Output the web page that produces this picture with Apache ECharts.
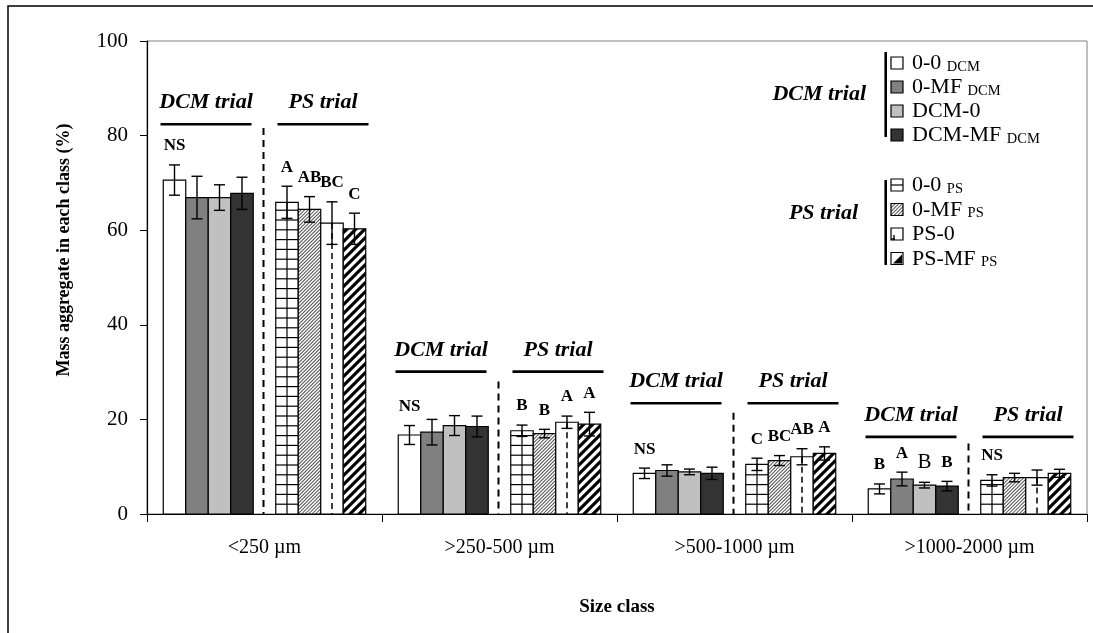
<!DOCTYPE html>
<html><head><meta charset="utf-8">
<script src="https://cdn.jsdelivr.net/npm/echarts@6/dist/echarts.min.js"></script>
<style>html,body{margin:0;padding:0;background:#fff}#c{width:1093px;height:633px}</style>
</head><body><div id="c"></div>
<script>
// ---------------- data ----------------
const categories = ['<250 µm', '>250-500 µm', '>500-1000 µm', '>1000-2000 µm'];

const mean00DCM = [70.6, 16.7, 8.6, 5.3];
const meanMFDCM = [66.9, 17.3, 9.2, 7.4];
const meanDCM0  = [66.9, 18.7, 8.9, 6.1];
const meanDCMMF = [67.8, 18.5, 8.6, 5.9];
const mean00PS  = [65.9, 17.6, 10.5, 7.1];
const meanMFPS  = [64.4, 17.0, 11.3, 7.7];
const meanPS0   = [61.5, 19.4, 12.1, 7.7];
const meanPSMF  = [60.3, 19.0, 12.8, 8.6];

const err00DCM = [3.2, 2.0, 1.1, 1.05];
const errMFDCM = [4.5, 2.7, 1.2, 1.45];
const errDCM0  = [2.7, 2.1, 0.6, 0.6];
const errDCMMF = [3.4, 2.2, 1.3, 1.0];
const err00PS  = [3.4, 1.2, 1.3, 1.2];
const errMFPS  = [2.7, 0.9, 1.05, 0.9];
const errPS0   = [4.5, 1.3, 1.7, 1.6];
const errPSMF  = [3.3, 2.5, 1.4, 0.85];

const let00DCM = ['NS', 'NS', 'NS', 'B'];
const letMFDCM = ['', '', '', 'A'];
const letDCM0  = ['', '', '', 'B'];
const letDCMMF = ['', '', '', 'B'];
const let00PS  = ['A', 'B', 'C', 'NS'];
const letMFPS  = ['AB', 'B', 'BC', ''];
const letPS0   = ['BC', 'A', 'AB', ''];
const letPSMF  = ['C', 'A', 'A', ''];
// letters printed in regular (non-bold) type: [treatment index, class index]
const plainLetters = [[2, 3]];

const legendMain = ['0-0', '0-MF', 'DCM-0', 'DCM-MF', '0-0', '0-MF', 'PS-0', 'PS-MF'];
const legendSub  = ['DCM', 'DCM', '', 'DCM', 'PS', 'PS', '', 'PS'];
const trialNames = ['DCM trial', 'PS trial'];

// heights (axis units) of the trial underline and top of dashed separator per class
const trialLineY = [82.4, 30.1, 23.4, 16.3];
const dashTopY   = [81.6, 28.0, 21.4, 14.9];

// ---------------- helpers ----------------
const treatments = [
  {mean: mean00DCM, err: err00DCM, letters: let00DCM, slot: 0},
  {mean: meanMFDCM, err: errMFDCM, letters: letMFDCM, slot: 1},
  {mean: meanDCM0,  err: errDCM0,  letters: letDCM0,  slot: 2},
  {mean: meanDCMMF, err: errDCMMF, letters: letDCMMF, slot: 3},
  {mean: mean00PS,  err: err00PS,  letters: let00PS,  slot: 5},
  {mean: meanMFPS,  err: errMFPS,  letters: letMFPS,  slot: 6},
  {mean: meanPS0,   err: errPS0,   letters: letPS0,   slot: 7},
  {mean: meanPSMF,  err: errPSMF,  letters: letPSMF,  slot: 8}
];
const SLOT = 22.5 / 235;
const SERIF = '"Liberation Serif", "Times New Roman", serif';

function ln(x1, y1, x2, y2, lw, dash) {
  const st = {stroke: '#000', lineWidth: lw || 1.2};
  if (dash) st.lineDash = dash;
  return {type: 'line', silent: true, shape: {x1, y1, x2, y2}, style: st};
}
function clipHalf(poly, fn) {
  const out = [];
  const n = poly.length;
  for (let i = 0; i < n; i++) {
    const cur = poly[i], prev = poly[(i - 1 + n) % n];
    const fc = fn(cur), fp = fn(prev);
    if (fc >= 0) {
      if (fp < 0) { const t = fp / (fp - fc); out.push([prev[0] + t * (cur[0] - prev[0]), prev[1] + t * (cur[1] - prev[1])]); }
      out.push(cur);
    } else if (fp >= 0) {
      const t = fp / (fp - fc); out.push([prev[0] + t * (cur[0] - prev[0]), prev[1] + t * (cur[1] - prev[1])]);
    }
  }
  return out;
}
function diagBands(x, y, w, h, step, lw, color) {
  const res = [];
  const half = lw * 0.7071;
  const rect = [[x, y], [x + w, y], [x + w, y + h], [x, y + h]];
  const k0 = Math.floor((x + y) / step) - 1, k1 = Math.ceil((x + w + y + h) / step) + 1;
  for (let k = k0; k <= k1; k++) {
    const c = k * step;
    let p = clipHalf(rect, q => q[0] + q[1] - (c - half));
    if (p.length < 3) continue;
    p = clipHalf(p, q => (c + half) - (q[0] + q[1]));
    if (p.length < 3) continue;
    res.push({type: 'polygon', silent: true, shape: {points: p}, style: {fill: color}});
  }
  return res;
}
const fills = ['#ffffff', '#808080', '#c0c0c0', '#333333', '#ffffff', '#ffffff', '#ffffff', '#ffffff'];
function barShapes(x, y, w, h, k, icon) {
  const arr = [{type: 'rect', silent: true, shape: {x, y, width: w, height: h}, style: {fill: fills[k]}}];
  if (k === 4) {
    if (icon) arr.push(ln(x, y + h / 2, x + w, y + h / 2, 1.2));
    else {
      for (let yy = y + h - 9.8; yy > y + 1; yy -= 9.8) arr.push(ln(x, yy, x + w, yy, 1.2));
      arr.push(ln(x + w / 2, y, x + w / 2, y + h, 1.2));
    }
  } else if (k === 5) {
    arr.push(...diagBands(x, y, w, h, 3.5, 0.9, '#555'));
  } else if (k === 6) {
    if (icon) { arr.push(ln(x + 3, y + h - 5, x + 3, y + h, 1.4)); arr.push(ln(x, y + h - 1, x + 4, y + h - 1, 1.4)); }
    else arr.push(ln(x + w / 2, y, x + w / 2, y + h, 1.5, [6, 4]));
  } else if (k === 7) {
    if (icon) arr.push({type: 'polygon', silent: true, shape: {points: [[x + w - 1, y + 2], [x + w - 1, y + h - 1], [x + 2, y + h - 1]]}, style: {fill: '#000'}});
    else arr.push(...diagBands(x, y, w, h, 9, 3.2, '#000'));
  }
  arr.push({type: 'rect', silent: true, shape: {x, y, width: w, height: h}, style: {fill: null, stroke: '#000', lineWidth: 1.2}});
  return arr;
}
function isPlain(k, i) { return plainLetters.some(p => p[0] === k && p[1] === i); }

function makeRender(k) {
  const tr = treatments[k];
  return function (params, api) {
    const i = api.value(0), v = api.value(1), e = api.value(2);
    const band = api.size([1, 0])[0];
    const sw = band * SLOT;
    const p0 = api.coord([i, 0]);
    const p1 = api.coord([i, v]);
    const cx = p0[0] + (tr.slot - 4) * sw;
    const children = barShapes(cx - sw / 2, p1[1], sw, p0[1] - p1[1], k, false);
    const yt = api.coord([i, v + e])[1], yb = api.coord([i, v - e])[1];
    children.push(ln(cx, yt, cx, yb, 1.4), ln(cx - 5.5, yt, cx + 5.5, yt, 1.4), ln(cx - 5.5, yb, cx + 5.5, yb, 1.4));
    const L = tr.letters[params.dataIndex];
    if (L) {
      const plain = isPlain(k, params.dataIndex);
      children.push({type: 'text', silent: true, style: {text: L, x: cx, y: yt - (plain ? 20 : 19), align: 'center', verticalAlign: 'middle',
        fill: '#000', font: plain ? '21px ' + SERIF : 'bold 17px ' + SERIF}});
    }
    return {type: 'group', children};
  };
}

function renderTrial(params, api) {
  const i = api.value(0);
  const band = api.size([1, 0])[0];
  const p0 = api.coord([i, 0]);
  const ly = api.coord([i, api.value(1)])[1];
  const dy = api.coord([i, api.value(2)])[1];
  const cx = p0[0];
  const ch = [];
  const u = band / 235;
  [[-104, -13, trialNames[0]], [13, 104, trialNames[1]]].forEach(s => {
    ch.push(ln(cx + s[0] * u, ly, cx + s[1] * u, ly, 2.6));
    ch.push({type: 'text', silent: true, style: {text: s[2], x: cx + (s[0] + s[1]) / 2 * u, y: ly - 21.6, align: 'center', verticalAlign: 'middle',
      fill: '#000', font: 'italic bold 22px ' + SERIF}});
  });
  ch.push(ln(cx - 1, dy, cx - 1, p0[1], 2, [7, 5]));
  return {type: 'group', children: ch};
}

const series = treatments.map((tr, k) => ({
  type: 'custom',
  name: legendMain[k] + (legendSub[k] ? ' ' + legendSub[k] : ''),
  renderItem: makeRender(k),
  encode: {x: 0, y: 1},
  data: tr.mean.map((v, i) => [i, v, tr.err[i]]),
  clip: false,
  z: 3
}));
series.push({
  type: 'custom', name: 'trials', renderItem: renderTrial, encode: {x: 0, y: 1}, clip: false, z: 2,
  data: categories.map((c, i) => [i, trialLineY[i], dashTopY[i]])
});

// ---------------- legend (graphic) ----------------
const mcv = document.createElement('canvas').getContext('2d');
function tw(t, font) { mcv.font = font; return mcv.measureText(t).width; }
const mainFont = '22px ' + SERIF, subFont = '14.5px ' + SERIF;
const rowY = [63, 87, 111, 135, 185, 209.5, 234, 258.5];
const graphics = [];
graphics.push({type: 'rect', silent: true, shape: {x: 8, y: 6, width: 1300, height: 1000}, style: {fill: null, stroke: '#000', lineWidth: 1.5}, z: 0});
graphics.push({type: 'text', silent: true, style: {text: trialNames[0], x: 866, y: 94, align: 'right', verticalAlign: 'middle', fill: '#000', font: 'italic bold 22px ' + SERIF}});
graphics.push({type: 'text', silent: true, style: {text: trialNames[1], x: 858, y: 213, align: 'right', verticalAlign: 'middle', fill: '#000', font: 'italic bold 22px ' + SERIF}});
graphics.push(ln(885.7, 52, 885.7, 137, 2.6));
graphics.push(ln(885.7, 180, 885.7, 265, 2.6));
legendMain.forEach((m, k) => {
  const yy = rowY[k];
  graphics.push({type: 'group', children: barShapes(891, yy - 6, 12, 12, k, true)});
  graphics.push({type: 'text', silent: true, style: {text: m, x: 912, y: yy + 0.7, align: 'left', verticalAlign: 'middle', fill: '#000', font: mainFont}});
  if (legendSub[k]) {
    graphics.push({type: 'text', silent: true, style: {text: legendSub[k], x: 912 + tw(m + ' ', mainFont), y: yy + 3.7, align: 'left', verticalAlign: 'middle', fill: '#000', font: subFont}});
  }
});

// ---------------- chart ----------------
const chart = echarts.init(document.getElementById('c'), null, {renderer: 'canvas'});
chart.setOption({
  animation: false,
  backgroundColor: '#fff',
  grid: {left: 147, right: 6, top: 41, bottom: 119, show: true, borderColor: '#808080', borderWidth: 1, backgroundColor: 'transparent'},
  xAxis: {
    type: 'category', data: categories, boundaryGap: true,
    axisLine: {lineStyle: {color: '#000', width: 1.2}},
    axisTick: {show: true, length: 8, interval: 0, lineStyle: {color: '#000'}},
    axisLabel: {interval: 0, margin: 24, color: '#000', fontSize: 20, fontFamily: SERIF},
    name: 'Size class', nameLocation: 'middle', nameGap: 84,
    nameTextStyle: {color: '#000', fontSize: 19, fontWeight: 'bold', fontFamily: SERIF},
    splitLine: {show: false}
  },
  yAxis: {
    type: 'value', min: 0, max: 100, interval: 20,
    axisLine: {show: true, lineStyle: {color: '#000', width: 1.2}},
    axisTick: {show: true, length: 7, lineStyle: {color: '#000'}},
    axisLabel: {margin: 19, color: '#000', fontSize: 21, fontFamily: SERIF},
    splitLine: {show: false},
    name: 'Mass aggregate in each class (%)', nameLocation: 'middle', nameGap: 74, nameRotate: 90,
    nameTextStyle: {color: '#000', fontSize: 18, fontWeight: 'bold', fontFamily: SERIF, padding: [0, 0, 0, 55]}
  },
  series: series,
  graphic: graphics
});
</script>
</body></html>
